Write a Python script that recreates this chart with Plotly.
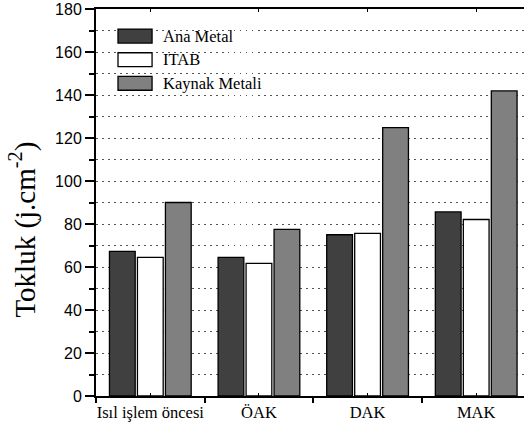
import plotly.graph_objects as go

categories = ["Isıl işlem öncesi", "ÖAK", "DAK", "MAK"]
series_names = ["Ana Metal", "ITAB", "Kaynak Metali"]
ana_metal = [67.3, 64.5, 75.0, 85.6]
itab = [64.5, 61.7, 75.6, 82.1]
kaynak_metali = [90.0, 77.5, 124.8, 141.9]
y_ticks = [0, 20, 40, 60, 80, 100, 120, 140, 160, 180]

series_values = [ana_metal, itab, kaynak_metali]
fills = ["#404040", "#ffffff", "#808080"]

SERIF = "Times New Roman, Liberation Serif, serif"
SANS = "Arial, Liberation Sans, sans-serif"
GRID = dict(showgrid=True, gridcolor="#555555", gridwidth=1, griddash="1.5px,4.5px")

fig = go.Figure()
for name, vals, col in zip(series_names, series_values, fills):
    fig.add_trace(go.Bar(
        x=categories, y=vals, name=name,
        marker=dict(color=col, line=dict(color="#000000", width=1.3)),
        showlegend=False,
    ))

# invisible trace carrying the extra tick layer at group centres
fig.add_trace(go.Scatter(x=[-0.5, 3.44], y=[0, 0], xaxis="x2", mode="lines",
                         line=dict(width=0), showlegend=False, hoverinfo="skip"))

x_range = [-0.5, 3.44]
fig.update_layout(
    width=524, height=427,
    margin=dict(l=96, r=0, t=9, b=31),
    paper_bgcolor="white", plot_bgcolor="white",
    barmode="group", bargap=0.227, bargroupgap=0.08,
    xaxis=dict(
        type="category", range=x_range, automargin=False, tickangle=0,
        tickson="boundaries", ticks="outside", ticklen=5, tickwidth=1.5, tickcolor="black",
        showline=True, linecolor="black", linewidth=2, mirror=True,
        showgrid=False,
        tickfont=dict(family=SERIF, size=16.5, color="black"),
    ),
    xaxis2=dict(
        overlaying="x", anchor="y", range=x_range, automargin=False,
        tickvals=[0, 1, 2, 3], ticks="inside", ticklen=3, tickwidth=1, tickcolor="black",
        showticklabels=False, showgrid=False, showline=False, zeroline=False,
        mirror="ticks",
    ),
    yaxis=dict(
        range=[0, 180], tickvals=y_ticks, automargin=False,
        ticks="outside", ticklen=9, tickwidth=1.5, tickcolor="black",
        showline=True, linecolor="black", linewidth=2,
        zeroline=False,
        tickfont=dict(family=SANS, size=16, color="black"),
        minor=dict(dtick=10, ticks="outside", ticklen=5, tickcolor="black", **GRID),
        **GRID,
    ),
)

# y-axis title
fig.add_annotation(
    text="Tokluk (j.cm<sup>-2</sup>)", textangle=-90,
    xref="paper", yref="paper", x=0, y=0.43, xshift=-73,
    xanchor="center", yanchor="middle", showarrow=False,
    font=dict(family=SERIF, size=29, color="black"),
)

# legend drawn as boxes with labels in the upper-left corner
for i, (name, col) in enumerate(zip(series_names, fills)):
    yc = 0.930 - i * 0.061
    fig.add_shape(type="rect", xref="paper", yref="paper",
                  x0=0.0514, x1=0.131, y0=yc - 0.018, y1=yc + 0.018,
                  fillcolor=col, line=dict(color="black", width=1.3))
    fig.add_annotation(text=name, xref="paper", yref="paper",
                       x=0.152, y=yc, xanchor="left", yanchor="middle",
                       showarrow=False,
                       font=dict(family=SERIF, size=16.5, color="black"))

fig.write_html("out.html")
